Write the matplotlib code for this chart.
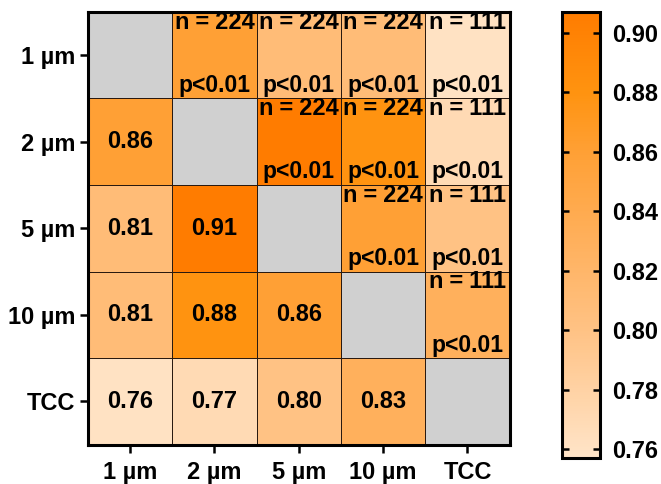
import matplotlib
matplotlib.use("Agg")
import matplotlib.pyplot as plt
import numpy as np
from matplotlib.colors import LinearSegmentedColormap

labels = ["1 µm", "2 µm", "5 µm", "10 µm", "TCC"]
# lower-triangle correlations (row, col)
r_2_1 = 0.86
r_5_1, r_5_2 = 0.81, 0.91
r_10_1, r_10_2, r_10_5 = 0.81, 0.88, 0.86
r_tcc = [0.76, 0.77, 0.80, 0.83]
n_regular = 224
n_tcc = 111
p_text = "p<0.01"

plt.rcParams["font.family"] = ["Liberation Sans", "DejaVu Sans"]
plt.rcParams["font.weight"] = "bold"

k = len(labels)
corr = np.full((k, k), np.nan)
corr[1, 0] = r_2_1
corr[2, 0], corr[2, 1] = r_5_1, r_5_2
corr[3, 0], corr[3, 1], corr[3, 2] = r_10_1, r_10_2, r_10_5
corr[4, :4] = r_tcc
for i in range(k):
    for j in range(i):
        corr[j, i] = corr[i, j]

vmin, vmax = 0.757, 0.907
stops = [0.757, 0.80, 0.83, 0.86, 0.88, 0.907]
stop_colors = ["#FFE4C8", "#FFC284", "#FFB05C", "#FFA035", "#FF9310", "#FF7C00"]
cmap = LinearSegmentedColormap.from_list(
    "peach", [((s - vmin) / (vmax - vmin), c) for s, c in zip(stops, stop_colors)])
cmap.set_bad("#D0D0D0")

fig = plt.figure(figsize=(6.61, 4.84), dpi=100)
ax = fig.add_axes([0.133, 0.081, 0.638, 0.895])
cax = fig.add_axes([0.850, 0.054, 0.057, 0.921])

mesh = ax.pcolormesh(np.ma.masked_invalid(corr), cmap=cmap, vmin=vmin, vmax=vmax,
                     edgecolors="#2a1a10", linewidth=0.7)
ax.set_xlim(0, k)
ax.set_ylim(k, 0)

for i in range(k):
    for j in range(k):
        if i > j:
            ax.text(j + 0.5, i + 0.5, "%.2f" % corr[i, j], ha="center", va="center",
                    fontsize=17, fontweight="bold")
        elif j > i:
            n = n_tcc if j == k - 1 else n_regular
            ax.text(j + 0.5, i + 0.12, "n\u2005=\u2005%d" % n, ha="center", va="center",
                    fontsize=17, fontweight="bold")
            ax.text(j + 0.5, i + 0.85, p_text, ha="center", va="center",
                    fontsize=16.5, fontweight="bold")

ax.set_xticks(np.arange(k) + 0.5)
ax.set_yticks(np.arange(k) + 0.5)
ax.set_xticklabels(labels)
ax.set_yticklabels(labels)
ax.tick_params(axis="both", length=6, width=1.8, labelsize=17)
ax.tick_params(axis="x", pad=6)
ax.tick_params(axis="y", pad=3)
for lab in ax.get_xticklabels() + ax.get_yticklabels():
    lab.set_fontweight("bold")
for s in ax.spines.values():
    s.set_linewidth(2.2)

cb = fig.colorbar(mesh, cax=cax)
cb.set_ticks([0.76, 0.78, 0.80, 0.82, 0.84, 0.86, 0.88, 0.90])
cb.ax.yaxis.set_ticks_position("both")
cb.ax.tick_params(direction="in", length=5, width=1.8, labelsize=17,
                  left=True, right=True, labelleft=False, labelright=True, pad=9)
cb.outline.set_linewidth(2.2)
for lab in cb.ax.get_yticklabels():
    lab.set_fontweight("bold")

fig.savefig("out.png", dpi=100)
